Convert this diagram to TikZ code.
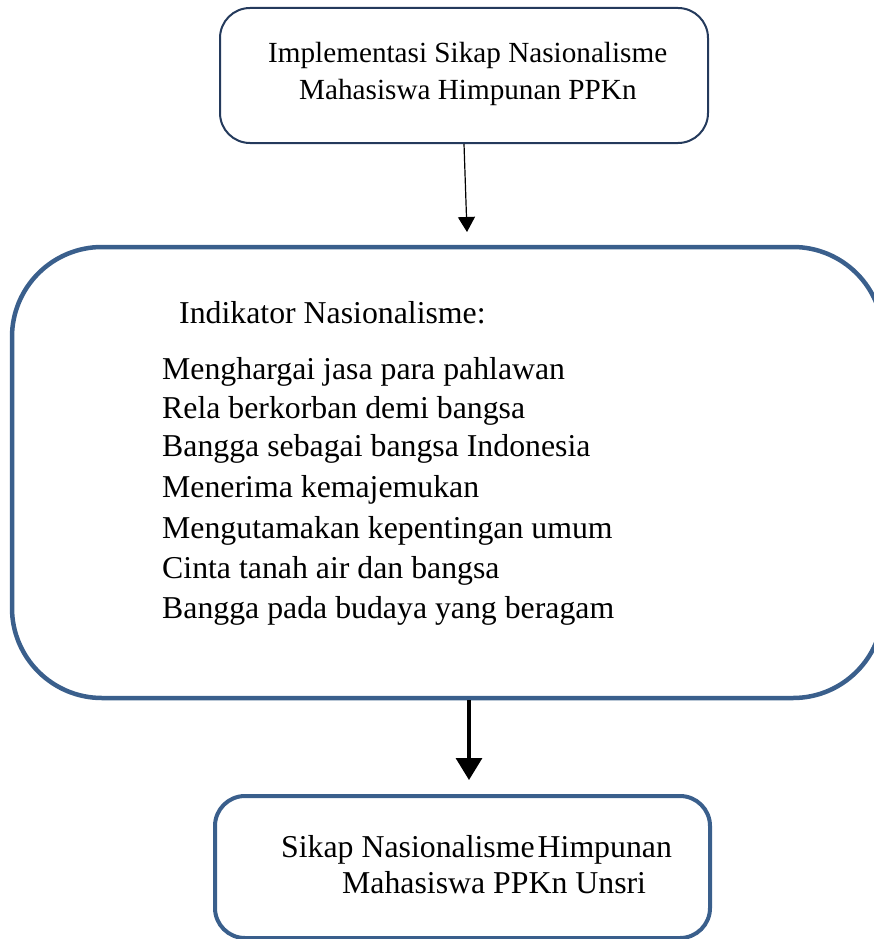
\documentclass[tikz,border=0pt]{standalone}
\usepackage{fontspec}
\setmainfont{Liberation Serif}
\usetikzlibrary{arrows.meta,calc}
\definecolor{boxblue}{HTML}{3A5F8C}
\definecolor{boxnavy}{HTML}{243A5C}
\tikzset{
  topbox/.style={draw=boxnavy, line width=2pt, rounded corners=30pt, inner sep=0pt},
  bigbox/.style={draw=boxblue, line width=4.5pt, rounded corners=90pt, inner sep=0pt},
  botbox/.style={draw=boxblue, line width=4pt, rounded corners=30pt, inner sep=0pt},
  smalltxt/.style={anchor=base west, inner sep=0pt, font=\fontsize{29.2}{35}\selectfont},
  bigtxt/.style={anchor=base west, inner sep=0pt, font=\fontsize{31.8}{38}\selectfont},
  thinarrow/.style={line width=1.2pt, -{Triangle[width=17pt,length=15pt]}},
  thickarrow/.style={line width=3.2pt, -{Triangle[width=26pt,length=22pt]}}
}
\begin{document}
\begin{tikzpicture}[x=1pt,y=-1pt]
\useasboundingbox (0,0) rectangle (874,939);
\clip (0,0) rectangle (874,939);
% boxes
\node[topbox, minimum width=488pt, minimum height=135pt] (top) at (464,75.5) {};
\node[bigbox, minimum width=871pt, minimum height=451pt] (big) at (447.5,472.5) {};
\node[botbox, minimum width=495pt, minimum height=142pt] (bot) at (462.5,867) {};
% texts
\node[smalltxt] (t1) at (268,63) {Implementasi Sikap Nasionalisme};
\node[smalltxt] (t2) at (299,100) {Mahasiswa Himpunan PPKn};
\node[bigtxt] (ih) at (179,323) {Indikator Nasionalisme:};
\node[bigtxt] (i1) at (162,379) {Menghargai jasa para pahlawan};
\node[bigtxt] (i2) at (162,418) {Rela berkorban demi bangsa};
\node[bigtxt] (i3) at (162,456) {Bangga sebagai bangsa Indonesia};
\node[bigtxt] (i4) at (162,497) {Menerima kemajemukan};
\node[bigtxt] (i5) at (162,538) {Mengutamakan kepentingan umum};
\node[bigtxt] (i6) at (162,578) {Cinta tanah air dan bangsa};
\node[bigtxt] (i7) at (162,618) {Bangga pada budaya yang beragam};
\node[bigtxt] (b1) at (281,857) {Sikap Nasionalisme\hspace{3pt}Himpunan};
\node[bigtxt] (b2) at (342,893) {Mahasiswa PPKn Unsri};
% connectors
\coordinate (a1e) at (467,232);
\coordinate (a2e) at (469,780);
\draw[thinarrow] (top.south) -- (a1e);
\draw[thickarrow] (big.south -| a2e) -- (a2e);
\end{tikzpicture}
\end{document}
